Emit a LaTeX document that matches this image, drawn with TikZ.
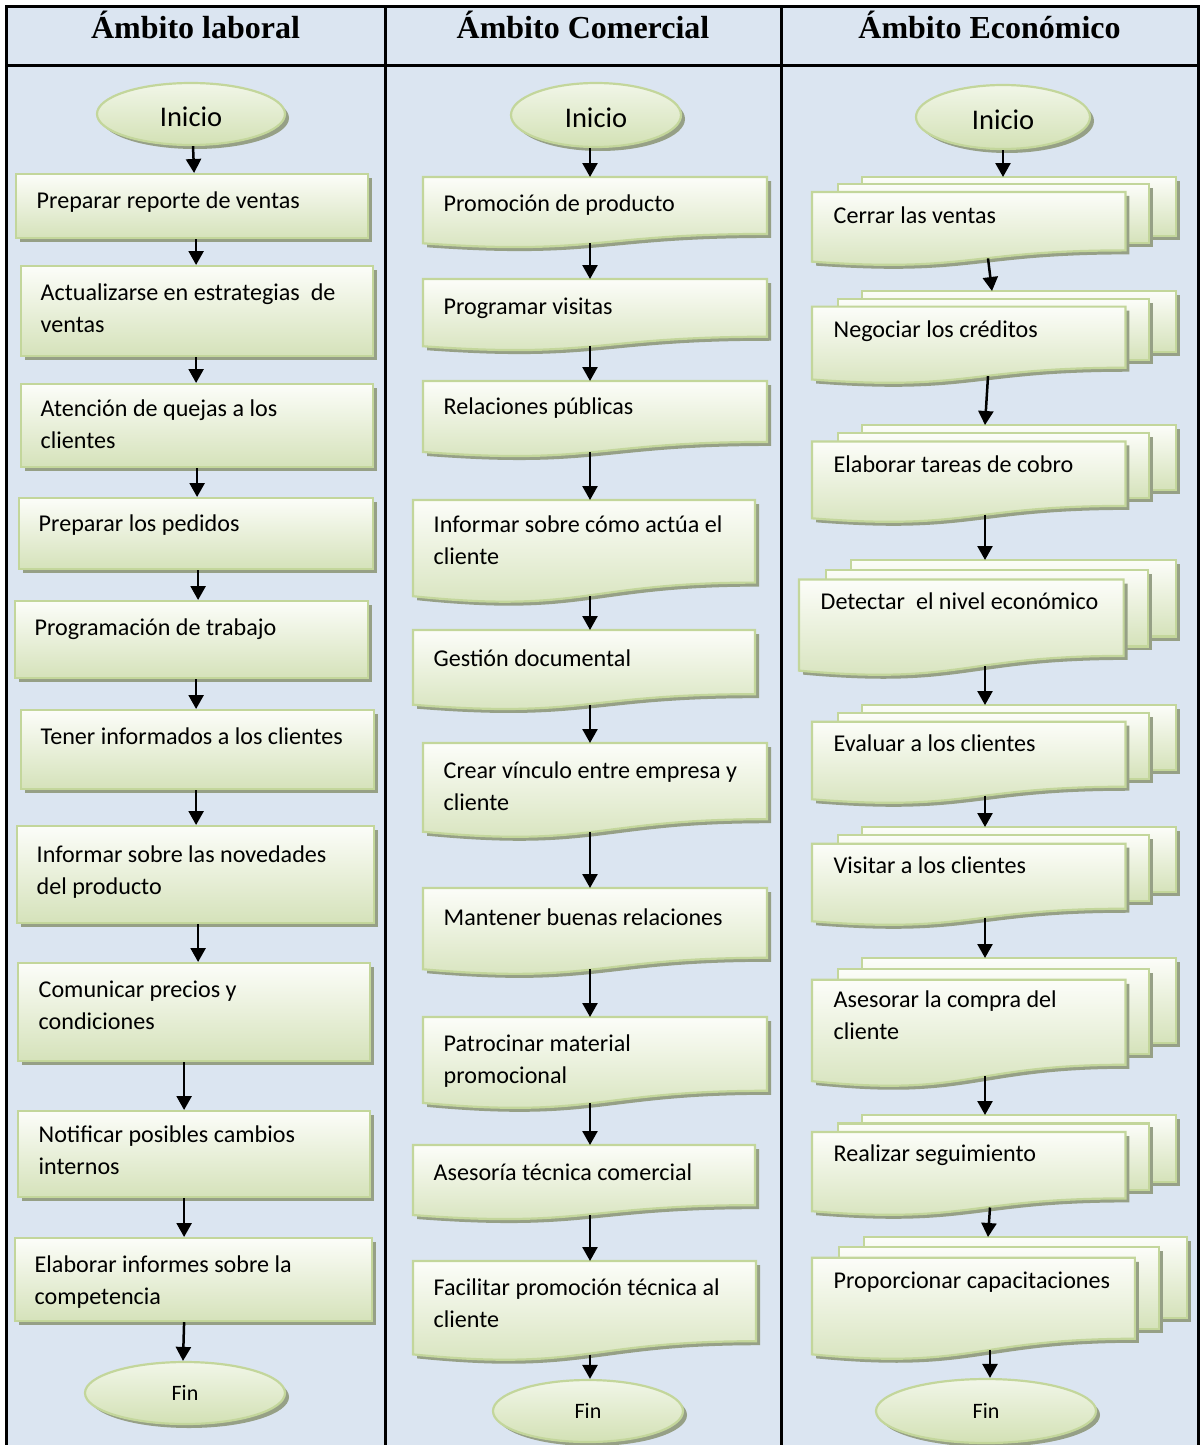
\documentclass[tikz,border=0pt]{standalone}
\usepackage{fontspec}
\setmainfont{Carlito}
\newfontfamily\headfont{Liberation Serif}
\usetikzlibrary{arrows.meta,shapes.geometric,shadows}

\definecolor{tablebg}{RGB}{219,229,241}
\definecolor{boxline}{RGB}{195,214,155}
\definecolor{boxtop}{RGB}{252,253,249}
\definecolor{boxbot}{RGB}{213,226,186}
\definecolor{termtop}{RGB}{241,246,232}
\definecolor{termbot}{RGB}{211,225,181}
\definecolor{boxshadow}{RGB}{150,160,134}

\tikzset{
  tblline/.style={line width=3pt, draw=black, line join=miter},
  boxfill/.style={top color=boxtop, bottom color=boxbot, draw=boxline, line width=2.2pt},
  boxshade/.style={drop shadow={shadow xshift=4pt, shadow yshift=-4pt, fill=boxshadow, opacity=1}},
  procbox/.style={rectangle, boxfill, boxshade, inner sep=0pt, anchor=north west},
  term/.style={ellipse, top color=termtop, bottom color=termbot, draw=boxline, line width=2.2pt, boxshade, inner sep=0pt},
  startlbl/.style={font=\fontsize{28.5}{34}\selectfont, text height=25pt, text depth=0pt},
  endlbl/.style={font=\fontsize{22}{28}\selectfont},
  frame/.style={rectangle, draw=none, inner sep=0pt, outer sep=0pt, anchor=north west},
  txt/.style={inner sep=0pt, anchor=north west, align=left, font=\fontsize{24.1}{32.5}\selectfont},
  hdr/.style={anchor=base, inner sep=0pt, font=\headfont\bfseries\fontsize{32}{38}\selectfont},
  arr/.style={line width=2.5pt, -{Triangle[width=15pt,length=14pt]}},
}

% document symbol with a wavy lower edge: name, left, top, right, height
\newcommand\docshape[5]{%
  \pgfmathsetmacro\dsw{#4-#2}%
  \pgfmathsetmacro\dsxm{#2+0.5*\dsw}%
  \pgfmathsetmacro\dsya{#3+0.802*#5}%
  \pgfmathsetmacro\dsyb{#3+1.107*#5}%
  \pgfmathsetmacro\dsyc{#3+0.934*#5}%
  \fill[boxshadow,xshift=4pt,yshift=-4pt] (#2,#3) -- (#4,#3) -- (#4,\dsya)
     .. controls (\dsxm,\dsya) and (\dsxm,\dsyb) .. (#2,\dsyc) -- cycle;
  \shadedraw[boxfill] (#2,#3) -- (#4,#3) -- (#4,\dsya)
     .. controls (\dsxm,\dsya) and (\dsxm,\dsyb) .. (#2,\dsyc) -- cycle;
  \node[frame, minimum width=\dsw, minimum height={0.935*#5}] (#1) at (#2,#3) {};
}

% stack of three document sheets: name, left, top, right, height
\newcommand\multidoc[5]{%
  \pgfmathsetmacro\mdw{#4-#2}%
  \pgfmathsetmacro\mdxa{#2+0.138*\mdw}%
  \pgfmathsetmacro\mdya{#3+0.666*#5}%
  \pgfmathsetmacro\mdxb{#2+0.071*\mdw}%
  \pgfmathsetmacro\mdxc{#2+0.926*\mdw}%
  \pgfmathsetmacro\mdyb{#3+0.084*#5}%
  \pgfmathsetmacro\mdyc{#3+0.752*#5}%
  \pgfmathsetmacro\mdxd{#2+0.861*\mdw}%
  \pgfmathsetmacro\mdxe{#2+0.43*\mdw}%
  \pgfmathsetmacro\mdyd{#3+0.170*#5}%
  \pgfmathsetmacro\mdye{#3+0.834*#5}%
  \pgfmathsetmacro\mdyf{#3+1.09*#5}%
  \pgfmathsetmacro\mdyg{#3+0.962*#5}%
  \fill[boxshadow,xshift=4pt,yshift=-4pt] (\mdxa,#3) rectangle (#4,\mdya);
  \shadedraw[boxfill] (\mdxa,#3) rectangle (#4,\mdya);
  \fill[boxshadow,xshift=4pt,yshift=-4pt] (\mdxb,\mdyb) rectangle (\mdxc,\mdyc);
  \shadedraw[boxfill] (\mdxb,\mdyb) rectangle (\mdxc,\mdyc);
  \fill[boxshadow,xshift=4pt,yshift=-4pt] (#2,\mdyd) -- (\mdxd,\mdyd) -- (\mdxd,\mdye)
     .. controls (\mdxe,\mdye) and (\mdxe,\mdyf) .. (#2,\mdyg) -- cycle;
  \shadedraw[boxfill] (#2,\mdyd) -- (\mdxd,\mdyd) -- (\mdxd,\mdye)
     .. controls (\mdxe,\mdye) and (\mdxe,\mdyf) .. (#2,\mdyg) -- cycle;
  \node[frame, minimum width=\mdw, minimum height={0.925*#5}] (#1) at (#2,#3) {};
}

\begin{document}
\begin{tikzpicture}[x=1pt,y=-1pt]
\useasboundingbox (0,0) rectangle (1201,1445);

% table with three columns
\fill[tablebg] (6,7) rectangle (1198,1445);
\draw[tblline] (6,1445) -- (6,7) -- (1198,7) -- (1198,1445);
\draw[tblline] (6,66) -- (1198,66);
\draw[tblline] (385,7) -- (385,1445);
\draw[tblline] (781,7) -- (781,1445);

\node[hdr] (h1) at (195.5,38) {Ámbito laboral};
\node[hdr] (h2) at (583,38) {Ámbito Comercial};
\node[hdr] (h3) at (989.5,38) {Ámbito Económico};

% ---------------- first column ----------------
\node[term, startlbl, minimum width=188, minimum height=62] (l0) at (191,114) {Inicio};
\node[procbox, minimum width=352, minimum height=64] (l1) at (15,173) {};
\node[procbox, minimum width=352, minimum height=90] (l2) at (20,265) {};
\node[procbox, minimum width=352, minimum height=83] (l3) at (20,383) {};
\node[procbox, minimum width=354, minimum height=71] (l4) at (18,497) {};
\node[procbox, minimum width=353, minimum height=77] (l5) at (14,600) {};
\node[procbox, minimum width=353, minimum height=79] (l6) at (20,709) {};
\node[procbox, minimum width=357, minimum height=97] (l7) at (16,825) {};
\node[procbox, minimum width=352, minimum height=98] (l8) at (17,962) {};
\node[procbox, minimum width=352, minimum height=86] (l9) at (17,1110) {};
\node[procbox, minimum width=357, minimum height=83] (l10) at (14,1237) {};
\node[term, endlbl, minimum width=200, minimum height=62] (lf) at (185,1393) {Fin};

\node[txt] (l1t) at (36.5,185.25) {\strut Preparar reporte de ventas};
\node[txt] (l2t) at (40.5,277.25) {\strut Actualizarse en estrategias~ de\\\strut ventas};
\node[txt] (l3t) at (40.5,393.25) {\strut Atención de quejas a los\\\strut clientes};
\node[txt] (l4t) at (38.5,508.25) {\strut Preparar los pedidos};
\node[txt] (l5t) at (34.5,612.25) {\strut Programación de trabajo};
\node[txt] (l6t) at (40.5,721.25) {\strut Tener informados a los clientes};
\node[txt] (l7t) at (36.5,839.25) {\strut Informar sobre las novedades\\\strut del producto};
\node[txt] (l8t) at (38.5,974.25) {\strut Comunicar precios y\\\strut condiciones};
\node[txt] (l9t) at (38.5,1119.25) {\strut Notificar posibles cambios\\\strut internos};
\node[txt] (l10t) at (34.5,1249.25) {\strut Elaborar informes sobre la\\\strut competencia};

\draw[arr] ([xshift=2pt]l0.south) -- ([xshift=2pt]l1.north);
\draw[arr] ([xshift=4pt]l1.south) -- ([xshift=-1pt]l2.north);
\draw[arr] ([xshift=-1pt]l2.south) -- ([xshift=-1pt]l3.north);
\draw[arr] ([xshift=0pt]l3.south) -- ([xshift=1pt]l4.north);
\draw[arr] ([xshift=2pt]l4.south) -- ([xshift=6.5pt]l5.north);
\draw[arr] ([xshift=4.5pt]l5.south) -- ([xshift=-1.5pt]l6.north);
\draw[arr] ([xshift=-1.5pt]l6.south) -- ([xshift=0.5pt]l7.north);
\draw[arr] ([xshift=2.5pt]l7.south) -- ([xshift=4pt]l8.north);
\draw[arr] ([xshift=-10pt]l8.south) -- ([xshift=-10pt]l9.north);
\draw[arr] ([xshift=-10pt]l9.south) -- ([xshift=-9.5pt]l10.north);
\draw[arr] ([xshift=-9.5pt]l10.south) -- ([xshift=-2pt]lf.north);

% ---------------- second column ----------------
\node[term, startlbl, minimum width=170, minimum height=64] (m0) at (596,115) {Inicio};
\docshape{m1}{423}{177}{767}{71}
\docshape{m2}{423}{279}{767}{72}
\docshape{m3}{423}{381}{767}{76}
\docshape{m4}{413}{500}{755}{103}
\docshape{m5}{413}{630}{755}{80}
\docshape{m6}{423}{743}{767}{95}
\docshape{m7}{423}{888}{767}{87}
\docshape{m8}{423}{1017}{767}{92}
\docshape{m9}{413}{1145}{755}{75}
\docshape{m10}{413}{1261}{756}{100}
\node[term, endlbl, minimum width=190, minimum height=62] (mf) at (588,1411) {Fin};

\node[txt] (m1t) at (443.5,188.25) {\strut Promoción de producto};
\node[txt] (m2t) at (443.5,291.25) {\strut Programar visitas};
\node[txt] (m3t) at (443.5,391.25) {\strut Relaciones públicas};
\node[txt] (m4t) at (433.5,509.25) {\strut Informar sobre cómo actúa el\\\strut cliente};
\node[txt] (m5t) at (433.5,643.25) {\strut Gestión documental};
\node[txt] (m6t) at (443.5,755.25) {\strut Crear vínculo entre empresa y\\\strut cliente};
\node[txt] (m7t) at (443.5,902.25) {\strut Mantener buenas relaciones};
\node[txt] (m8t) at (443.5,1028.25) {\strut Patrocinar material\\\strut promocional};
\node[txt] (m9t) at (433.5,1157.25) {\strut Asesoría técnica comercial};
\node[txt] (m10t) at (433.5,1272.25) {\strut Facilitar promoción técnica al\\\strut cliente};

\draw[arr] ([xshift=-6pt]m0.south) -- ([xshift=-5pt]m1.north);
\draw[arr] ([xshift=-5pt]m1.south) -- ([xshift=-5pt]m2.north);
\draw[arr] ([xshift=-5pt]m2.south) -- ([xshift=-5pt]m3.north);
\draw[arr] ([xshift=-5pt]m3.south) -- ([xshift=6pt]m4.north);
\draw[arr] ([xshift=6pt]m4.south) -- ([xshift=6pt]m5.north);
\draw[arr] ([xshift=6pt]m5.south) -- ([xshift=-5pt]m6.north);
\draw[arr] ([xshift=-5pt]m6.south) -- ([xshift=-5pt]m7.north);
\draw[arr] ([xshift=-5pt]m7.south) -- ([xshift=-5pt]m8.north);
\draw[arr] ([xshift=-5pt]m8.south) -- ([xshift=6pt]m9.north);
\draw[arr] ([xshift=6pt]m9.south) -- ([xshift=5.5pt]m10.north);
\draw[arr] ([xshift=5.5pt]m10.south) -- ([xshift=2pt]mf.north);

% ---------------- third column ----------------
\node[term, startlbl, minimum width=174, minimum height=64] (r0) at (1003,117) {Inicio};
\multidoc{r1}{812}{177}{1176}{88}
\multidoc{r2}{812}{291}{1176}{92}
\multidoc{r3}{812}{425}{1176}{97}
\multidoc{r4}{799}{560}{1176}{115}
\multidoc{r5}{812}{705}{1176}{98}
\multidoc{r6}{812}{827}{1176}{98}
\multidoc{r7}{812}{958}{1176}{128}
\multidoc{r8}{812}{1115}{1176}{100}
\multidoc{r9}{812}{1237}{1187}{122}
\node[term, endlbl, minimum width=220, minimum height=64] (rf) at (986,1411) {Fin};

\node[txt] (r1t) at (833.5,200.25) {\strut Cerrar las ventas};
\node[txt] (r2t) at (833.5,314.25) {\strut Negociar los créditos};
\node[txt] (r3t) at (833.5,449.25) {\strut Elaborar tareas de cobro};
\node[txt] (r4t) at (820.5,586.25) {\strut Detectar~ el nivel económico};
\node[txt] (r5t) at (833.5,728.25) {\strut Evaluar a los clientes};
\node[txt] (r6t) at (833.5,850.25) {\strut Visitar a los clientes};
\node[txt] (r7t) at (833.5,984.25) {\strut Asesorar la compra del\\\strut cliente};
\node[txt] (r8t) at (833.5,1138.25) {\strut Realizar seguimiento};
\node[txt] (r9t) at (833.5,1265.25) {\strut Proporcionar capacitaciones};

\draw[arr] (r0.south) -- ([xshift=9pt]r1.north);
\draw[arr] ([xshift=-6pt]r1.south) -- ([xshift=-2pt]r2.north);
\draw[arr] ([xshift=-6pt]r2.south) -- ([xshift=-9pt]r3.north);
\draw[arr] ([xshift=-9pt]r3.south) -- ([xshift=-2.5pt]r4.north);
\draw[arr] ([xshift=-2.5pt]r4.south) -- ([xshift=-9pt]r5.north);
\draw[arr] ([xshift=-9pt]r5.south) -- ([xshift=-9pt]r6.north);
\draw[arr] ([xshift=-9pt]r6.south) -- ([xshift=-9pt]r7.north);
\draw[arr] ([xshift=-9pt]r7.south) -- ([xshift=-9pt]r8.north);
\draw[arr] ([xshift=-4pt]r8.south) -- ([xshift=-11.5pt]r9.north);
\draw[arr] ([xshift=-9.5pt]r9.south) -- ([xshift=4pt]rf.north);
\end{tikzpicture}
\end{document}
